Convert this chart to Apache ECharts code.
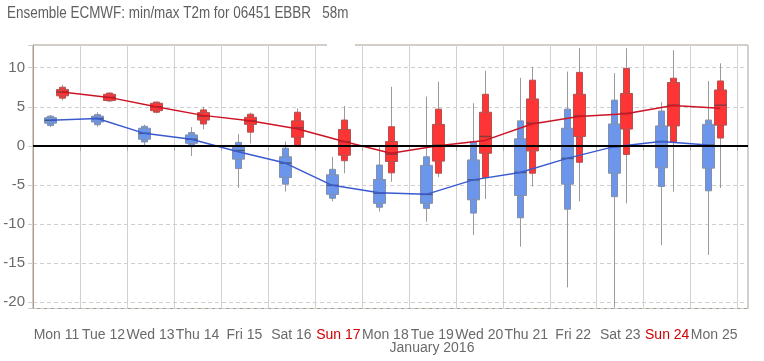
<!DOCTYPE html>
<html>
<head>
<meta charset="utf-8">
<script src="https://cdn.jsdelivr.net/npm/echarts@6/dist/echarts.min.js"></script>
<style>html,body{margin:0;padding:0;background:#fff}#c{width:764px;height:361px}</style>
</head>
<body>
<div id="c"></div>
<script>
// ---- Data (°C) ----
const titleText = 'Ensemble ECMWF: min/max T2m for 06451 EBBR   58m';
const dayLabels = ['Mon 11','Tue 12','Wed 13','Thu 14','Fri 15','Sat 16','Sun 17','Mon 18','Tue 19','Wed 20','Thu 21','Fri 22','Sat 23','Sun 24','Mon 25'];
const monthLabel = 'January 2016';
const yTicks = [-20,-15,-10,-5,0,5,10];

// Tmin ensemble (blue)
const tminLow  = [2.4, 2.45, 0.1, -1.3, -5.4, -5.85, -7.1, -8.4, -9.7, -11.4, -12.9, -18.1, -20.7, -12.7, -13.95];
const tminP10  = [2.6, 2.7, 0.5, -0.1, -2.9, -4.9, -6.7, -7.85, -8.0, -8.6, -9.2, -8.1, -6.5, -5.2, -5.75];
const tminP25  = [2.9, 3.05, 0.85, 0.33, -1.7, -4.05, -6.2, -7.35, -7.35, -6.9, -6.35, -4.9, -3.5, -2.8, -2.85];
const tminMed  = [3.27, 3.5, 1.6, 0.85, -0.6, -2.2, -5.05, -6.05, -6.2, -4.35, -3.4, -1.6, -0.1, 0.55, 0.1];
const tminP75  = [3.6, 3.8, 2.25, 1.4, -0.1, -1.4, -3.7, -4.3, -2.5, -1.8, 0.9, 2.25, 2.8, 2.55, 2.75];
const tminP90  = [3.8, 4.0, 2.5, 1.7, 0.45, -0.3, -3.0, -2.45, -1.4, 0.55, 3.2, 4.7, 5.85, 4.45, 3.3];
const tminHigh = [3.95, 4.3, 2.7, 2.4, 1.5, 0.55, -1.4, 0.1, 6.3, 5.45, 8.7, 9.5, 9.3, 5.6, 8.3];
const tminLine = [3.27, 3.5, 1.6, 0.85, -0.75, -2.2, -5.05, -6.0, -6.2, -4.35, -3.4, -1.6, -0.1, 0.55, 0.1];

// Tmax ensemble (red)
const tmaxLow  = [5.8, 5.6, 4.15, 2.1, 0.3, 0.0, -3.5, -4.6, -4.0, -6.8, -5.2, -7.1, -7.35, -5.85, -5.4];
const tmaxP10  = [6.1, 5.75, 4.3, 2.8, 1.75, 0.1, -1.9, -3.45, -3.5, -4.05, -3.5, -2.1, -1.1, 0.45, 1.0];
const tmaxP25  = [6.4, 5.8, 4.5, 3.3, 2.75, 1.1, -1.2, -2.0, -1.95, -0.95, -0.65, 1.2, 2.15, 2.55, 2.65];
const tmaxMed  = [6.9, 6.2, 5.0, 3.8, 3.2, 2.3, 0.55, -1.05, 0.1, 1.2, 2.9, 3.8, 4.15, 5.2, 5.2];
const tmaxP75  = [7.2, 6.6, 5.45, 4.25, 3.65, 3.2, 2.1, 0.55, 2.75, 4.3, 6.0, 6.6, 6.7, 8.1, 7.15];
const tmaxP90  = [7.5, 6.75, 5.6, 4.6, 4.05, 4.3, 3.3, 2.45, 4.7, 6.6, 8.4, 9.4, 9.9, 8.65, 8.3];
const tmaxHigh = [7.8, 6.85, 5.65, 5.0, 4.25, 4.8, 5.1, 7.55, 8.2, 9.6, 10.1, 12.5, 12.5, 12.25, 10.55];
const tmaxLine = [6.9, 6.2, 5.0, 3.9, 3.2, 2.2, 0.55, -0.95, 0.0, 0.7, 2.8, 3.75, 4.1, 5.15, 4.8];

// ---- build ----
const MIN_OFF = 0.37, MAX_OFF = 0.62; // time of day (fraction) of Tmin / Tmax
const FONT = "'Liberation Sans',Arial,sans-serif";

function boxData(off, lo, p10, p25, med, p75, p90, hi) {
  return dayLabels.map((_, i) => [i + off, lo[i], p10[i], p25[i], med[i], p75[i], p90[i], hi[i]]);
}
function lineData(off, arr) { return arr.map((v, i) => [i + off, v]); }
function dayName(v) {
  const n = Number(v);
  return (Number.isInteger(n) && n >= 0 && n < dayLabels.length) ? dayLabels[n] : '';
}

function makeRender(fill, stroke, medColor) {
  return function (params, api) {
    const x = api.value(0);
    const ys = [1,2,3,4,5,6,7].map(k => api.coord([x, api.value(k)])[1]);
    const cx = Math.round(api.coord([x, 0])[0]) + 0.5;
    const [wLo, nLo, bLo, med, bHi, nHi, wHi] = ys;
    const wW = 12, nW = 6;
    return {
      type: 'group',
      children: [
        { type: 'line', shape: { x1: cx, y1: wLo, x2: cx, y2: wHi }, style: { stroke: '#9a9a9a', lineWidth: 1 } },
        { type: 'rect', shape: { x: cx - nW / 2, y: nHi, width: nW, height: nLo - nHi }, style: { fill: fill, stroke: stroke, lineWidth: 1 } },
        { type: 'rect', shape: { x: cx - wW / 2, y: bHi, width: wW, height: bLo - bHi }, style: { fill: fill, stroke: stroke, lineWidth: 1 } },
        { type: 'line', shape: { x1: cx - wW / 2, y1: med, x2: cx + wW / 2, y2: med }, style: { stroke: medColor, lineWidth: 1.5 } }
      ]
    };
  };
}

const chart = echarts.init(document.getElementById('c'), null, { renderer: 'canvas' });
const option = {
  animation: false,
  backgroundColor: '#fff',
  grid: { left: 33, right: 16, top: 45, bottom: 52.5, show: true, borderColor: '#a89c8e', borderWidth: 1, backgroundColor: 'transparent' },
  xAxis: {
    type: 'value', min: 0, max: 15.22, interval: 1,
    axisLine: { lineStyle: { color: '#a89c8e' } },
    axisTick: { show: true, length: 5, lineStyle: { color: '#b0a89c' } },
    splitLine: { show: true, lineStyle: { color: '#d2d2d2', width: 1 } },
    axisLabel: {
      fontFamily: FONT, fontSize: 14, margin: 20,
      padding: [0, 0, 0, 47],
      showMinLabel: true, showMaxLabel: false,
      formatter: v => dayName(v),
      color: v => dayName(v).startsWith('Sun') ? '#d00000' : '#6a6a6a'
    }
  },
  yAxis: {
    type: 'value', min: -20.8, max: 12.9, splitNumber: 7,
    axisLine: { show: true, lineStyle: { color: '#a89c8e' } },
    axisTick: { show: true, length: 5, lineStyle: { color: '#cfcfcf' } },
    splitLine: { show: true, lineStyle: { color: '#cfcfcf', type: [4, 3] } },
    axisLabel: {
      fontFamily: FONT, fontSize: 15, color: '#6a6a6a', margin: 8,
      formatter: v => yTicks.includes(v) ? String(v) : ''
    }
  },
  graphic: [
    { type: 'text', x: 7, y: 6, scaleX: 0.84, scaleY: 1, z: 100,
      style: { text: titleText, x: 0, y: 0, textAlign: 'left', textVerticalAlign: 'top', font: '16px ' + FONT, fill: '#5f5f5f' } },
    { type: 'rect', shape: { x: 327, y: 43.5, width: 28, height: 3 }, style: { fill: '#fff' }, z: 100 },
    { type: 'text', z: 100,
      style: { text: monthLabel, x: 432, y: 341, textAlign: 'center', textVerticalAlign: 'top', font: '14px ' + FONT, fill: '#6a6a6a' } }
  ],
  series: [
    {
      type: 'custom', name: 'Tmin', z: 2,
      renderItem: makeRender('#6c96ec', '#8390a8', '#4a5878'),
      encode: { x: 0, y: [1, 7] },
      data: boxData(MIN_OFF, tminLow, tminP10, tminP25, tminMed, tminP75, tminP90, tminHigh)
    },
    {
      type: 'custom', name: 'Tmax', z: 2,
      renderItem: makeRender('#ff3535', '#b35252', '#8a3a3a'),
      encode: { x: 0, y: [1, 7] },
      data: boxData(MAX_OFF, tmaxLow, tmaxP10, tmaxP25, tmaxMed, tmaxP75, tmaxP90, tmaxHigh)
    },
    {
      type: 'line', name: 'TminLine', z: 4, symbol: 'none',
      lineStyle: { color: '#3a5ad0', width: 1.5 },
      data: lineData(MIN_OFF, tminLine)
    },
    {
      type: 'line', name: 'TmaxLine', z: 4, symbol: 'none',
      lineStyle: { color: '#cc1424', width: 1.5 },
      data: lineData(MAX_OFF, tmaxLine),
      markLine: {
        silent: true, symbol: 'none', label: { show: false },
        lineStyle: { color: '#000', width: 2, type: 'solid' },
        data: [{ yAxis: 0 }]
      }
    }
  ]
};
chart.setOption(option);
</script>
</body>
</html>
